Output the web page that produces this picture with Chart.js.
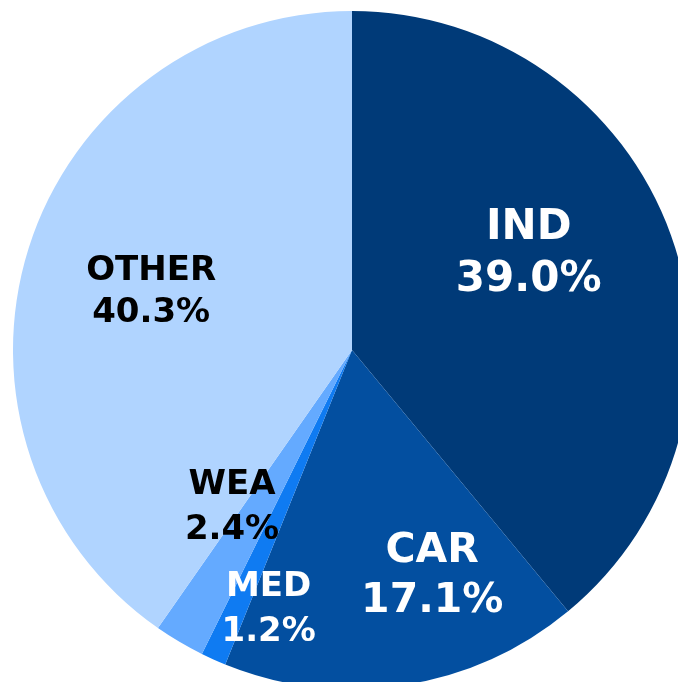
<!DOCTYPE html>
<html>
<head>
<meta charset="utf-8">
<script src="https://cdn.jsdelivr.net/npm/chart.js@4"></script>
<style>
  html, body { margin: 0; padding: 0; background: #ffffff; overflow: hidden; }
  #wrap { position: absolute; left: 0; top: 0; width: 704px; height: 700px; }
</style>
</head>
<body>
<div id="wrap"><canvas id="pieChart" width="704" height="700"></canvas></div>
<script>
// Datos del gráfico
const categories = ["IND", "CAR", "MED", "WEA", "OTHER"];
const shares = [39.0, 17.1, 1.2, 2.4, 40.3];

// Colores de cada porción
const sliceColors = ["#003A78", "#034FA0", "#0F7BF2", "#64AAFF", "#B0D4FF"];

// Ubicación de cada etiqueta: ángulo (grados, desde arriba) y fracción del radio
const labelStyles = [
  { angle: 61.0, dist: 0.596, size: 42, color: "#ffffff", gap: 52 },
  { angle: 160.3, dist: 0.702, size: 41, color: "#ffffff", gap: 50 },
  { angle: 197.9, dist: 0.800, size: 34, color: "#ffffff", gap: 45 },
  { angle: 217.6, dist: 0.580, size: 34, color: "#000000", gap: 45 },
  { angle: 286.5, dist: 0.618, size: 34, color: "#000000", gap: 42 }
];

const labelPlugin = {
  id: "sliceLabels",
  afterDatasetsDraw(chart) {
    const ctx = chart.ctx;
    const meta = chart.getDatasetMeta(0);
    meta.data.forEach((arc, i) => {
      const st = labelStyles[i];
      const a = (st.angle - 90) * Math.PI / 180;
      const x = arc.x + Math.cos(a) * arc.outerRadius * st.dist;
      const y = arc.y + Math.sin(a) * arc.outerRadius * st.dist + 2;
      ctx.save();
      ctx.fillStyle = st.color;
      ctx.font = `bold ${st.size}px "DejaVu Sans", Verdana, sans-serif`;
      ctx.textAlign = "center";
      ctx.textBaseline = "middle";
      ctx.fillText(categories[i], x, y - st.gap / 2);
      ctx.fillText(shares[i].toFixed(1) + "%", x, y + st.gap / 2);
      ctx.restore();
    });
  }
};

new Chart(document.getElementById("pieChart"), {
  type: "pie",
  data: {
    labels: categories,
    datasets: [{
      data: shares,
      backgroundColor: sliceColors,
      borderWidth: 0
    }]
  },
  options: {
    responsive: false,
    animation: false,
    layout: { padding: 11 },
    plugins: {
      legend: { display: false },
      tooltip: { enabled: false }
    }
  },
  plugins: [labelPlugin]
});
</script>
</body>
</html>
